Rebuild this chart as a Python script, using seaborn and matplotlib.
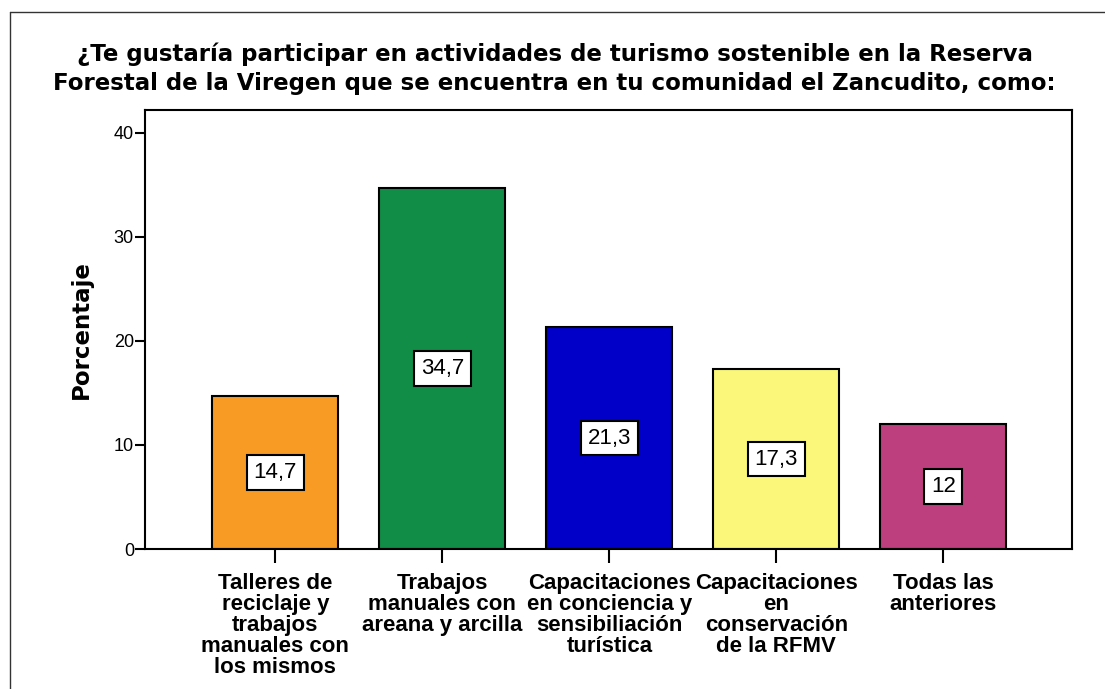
import matplotlib
matplotlib.use("Agg")
import matplotlib.pyplot as plt
from matplotlib import font_manager
from matplotlib.lines import Line2D
import seaborn as sns

# data
categories = [
    "Talleres de\nreciclaje y\ntrabajos\nmanuales con\nlos mismos",
    "Trabajos\nmanuales con\nareana y arcilla",
    "Capacitaciones\nen conciencia y\nsensibiliación\nturística",
    "Capacitaciones\nen\nconservación\nde la RFMV",
    "Todas las\nanteriores",
]
percentages = [14.7, 34.7, 21.3, 17.3, 12.0]
yticks = [0, 10, 20, 30, 40]
colors = ["#F79B25", "#128D47", "#0000C8", "#FAF77A", "#BE3F7D"]

title = ("¿Te gustaría participar en actividades de turismo sostenible en la Reserva\n"
         "Forestal de la Viregen que se encuentra en tu comunidad el Zancudito, como:")

sns.set_style("white")

available = {f.name for f in font_manager.fontManager.ttflist}
narrow = "Liberation Sans Narrow" if "Liberation Sans Narrow" in available else "Liberation Sans"
plt.rcParams["font.family"] = ["DejaVu Sans"]
plt.rcParams["text.color"] = "black"
plt.rcParams["axes.labelcolor"] = "black"
plt.rcParams["xtick.color"] = "black"
plt.rcParams["ytick.color"] = "black"

fig = plt.figure(figsize=(11.05, 6.89), dpi=100)
W, H = 1105, 689
ax = fig.add_axes([145 / W, (H - 549) / H, 927 / W, 439 / H])

sns.barplot(x=categories, y=percentages, hue=categories, palette=colors, saturation=1,
            width=0.755, edgecolor="black", linewidth=1.5, legend=False, ax=ax)

ax.set_xlim(-0.78, 4.77)
ax.set_ylim(0, 42.2)
ax.set_yticks(yticks)
ax.set_yticklabels([str(t) for t in yticks], fontsize=13, family="Liberation Sans")
ax.set_xticks(range(len(categories)))
ax.set_xticklabels(categories, fontsize=16, fontweight="bold", family=narrow,
                   linespacing=1.0)
ax.tick_params(axis="y", direction="out", length=7, width=1.5, color="black", pad=1, left=True)
ax.tick_params(axis="x", direction="out", length=10, width=1.5, color="black", pad=7, bottom=True)
ax.set_xlabel("")
ax.set_ylabel("Porcentaje", fontsize=16.5, fontweight="bold", labelpad=15)
for s in ax.spines.values():
    s.set_visible(True)
    s.set_color("black")
    s.set_linewidth(1.5)

# value labels in white boxes at half bar height
for i, v in enumerate(percentages):
    label = f"{v:g}".replace(".", ",")
    ax.text(i, v / 2, label, ha="center", va="center", fontsize=16, family=narrow,
            bbox=dict(boxstyle="square,pad=0.3", facecolor="white", edgecolor="black", linewidth=1.5))

fig.suptitle(title, x=0.502, y=1 - 43 / H, fontsize=16.5, fontweight="bold", linespacing=1.3)

# outer frame (top and left edges)
fig.add_artist(Line2D([10 / W, 1], [1 - 12 / H, 1 - 12 / H], transform=fig.transFigure,
                      color="#333333", linewidth=1))
fig.add_artist(Line2D([10 / W, 10 / W], [0, 1 - 12 / H], transform=fig.transFigure,
                      color="#333333", linewidth=1))

fig.savefig("out.png", dpi=100)
